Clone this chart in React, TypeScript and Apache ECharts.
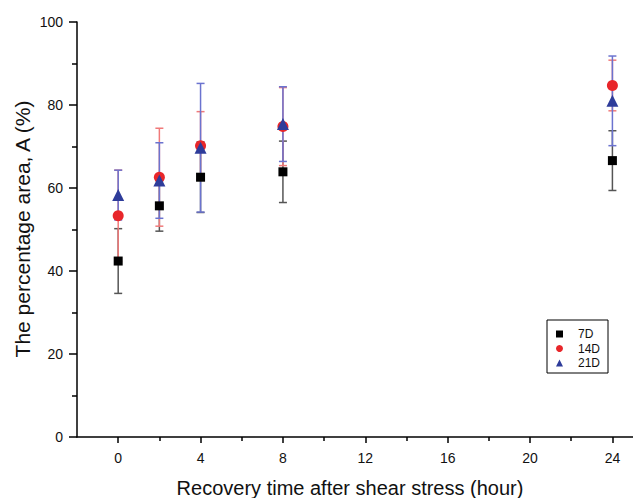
import React, { useEffect, useRef } from "react";
import * as echarts from "echarts";

const times = [0, 2, 4, 8, 24];
const names = ["7D", "14D", "21D"];
const mean7 = [42.4, 55.7, 62.6, 63.9, 66.6];
const err7 = [7.8, 6.1, 8.5, 7.4, 7.2];
const mean14 = [53.3, 62.6, 70.2, 74.8, 84.7];
const err14 = [11.0, 11.8, 8.2, 9.4, 6.1];
const mean21 = [58.3, 61.8, 69.7, 75.4, 81.0];
const err21 = [6.0, 9.1, 15.5, 9.0, 10.8];
const xMajorTicks = [0, 4, 8, 12, 16, 20, 24];
const xMinorTicks = [2, 6, 10, 14, 18, 22];
const yMajorTicks = [0, 20, 40, 60, 80, 100];
const yMinorTicks = [10, 30, 50, 70, 90];

const FONT = "Liberation Sans, Arial, sans-serif";

function errSeries(name: string, means: number[], errs: number[], color: string) {
  return {
    type: "custom",
    name: name + " err",
    encode: { x: 0, y: 1 },
    data: times.map((t, i) => [t, means[i], errs[i]]),
    renderItem: (params: any, api: any) => {
      const x = api.value(0);
      const y = api.value(1);
      const e = api.value(2);
      const top = api.coord([x, y + e]);
      const bot = api.coord([x, y - e]);
      const w = 4;
      const style = { stroke: color, lineWidth: 1.5 };
      return {
        type: "group",
        children: [
          { type: "line", shape: { x1: top[0], y1: top[1], x2: bot[0], y2: bot[1] }, style },
          { type: "line", shape: { x1: top[0] - w, y1: top[1], x2: top[0] + w, y2: top[1] }, style },
          { type: "line", shape: { x1: bot[0] - w, y1: bot[1], x2: bot[0] + w, y2: bot[1] }, style },
        ],
      };
    },
  };
}

function markSeries(name: string, means: number[], symbol: string, size: number, color: string) {
  return {
    type: "scatter",
    name,
    symbol,
    symbolSize: size,
    itemStyle: { color, opacity: 1 },
    data: times.map((t, i) => [t, means[i]]),
  };
}

export default function App() {
  const ref = useRef<HTMLDivElement>(null);
  useEffect(() => {
    if (!ref.current) return;
    const chart = echarts.init(ref.current, null, { renderer: "svg" });
    const axisLineStyle = { color: "#000", width: 1.5 };
    chart.setOption({
      animation: false,
      backgroundColor: "#ffffff",
      grid: { left: 77, right: 0, top: 22, bottom: 61 },
      xAxis: [
        {
          type: "value",
          min: -2,
          max: 25,
          interval: 1,
          position: "bottom",
          axisLine: { show: true, onZero: false, lineStyle: axisLineStyle },
          axisTick: { show: true, customValues: xMajorTicks, length: 6, lineStyle: axisLineStyle },
          axisLabel: { customValues: xMajorTicks, margin: 14, fontSize: 14, color: "#111", fontFamily: FONT },
          splitLine: { show: false },
        },
        {
          type: "value",
          min: -2,
          max: 25,
          interval: 1,
          position: "bottom",
          offset: 0,
          axisLine: { show: false, onZero: false },
          axisTick: { show: true, customValues: xMinorTicks, length: 4, lineStyle: axisLineStyle },
          axisLabel: { show: false },
          splitLine: { show: false },
        },
      ],
      yAxis: [
        {
          type: "value",
          min: 0,
          max: 100,
          interval: 20,
          position: "left",
          axisLine: { show: true, onZero: false, lineStyle: axisLineStyle },
          axisTick: { show: true, customValues: yMajorTicks, length: 8, lineStyle: axisLineStyle },
          axisLabel: { customValues: yMajorTicks, margin: 14, fontSize: 14, color: "#111", fontFamily: FONT },
          splitLine: { show: false },
        },
        {
          type: "value",
          min: 0,
          max: 100,
          interval: 10,
          position: "left",
          offset: 0,
          axisLine: { show: false, onZero: false },
          axisTick: { show: true, customValues: yMinorTicks, length: 5, lineStyle: axisLineStyle },
          axisLabel: { show: false },
          splitLine: { show: false },
        },
      ],
      legend: {
        data: names,
        orient: "vertical",
        left: 547,
        top: 320,
        itemWidth: 7,
        itemHeight: 7,
        itemGap: 2.5,
        padding: [8, 8, 4, 9],
        borderColor: "#000",
        borderWidth: 1,
        textStyle: { fontSize: 12, color: "#111", fontFamily: FONT, padding: [0, 0, 0, 10] },
      },
      graphic: [
        {
          type: "text",
          x: 350,
          y: 488,
          style: {
            text: "Recovery time after shear stress (hour)",
            fontSize: 20,
            fontFamily: FONT,
            fill: "#111",
            align: "center",
            verticalAlign: "middle",
          },
        },
        {
          type: "text",
          x: 22,
          y: 229,
          rotation: Math.PI / 2,
          style: {
            text: "The percentage area, A (%)",
            fontSize: 21,
            fontFamily: FONT,
            fill: "#111",
            align: "center",
            verticalAlign: "middle",
          },
        },
      ],
      series: [
        errSeries(names[0], mean7, err7, "#555555"),
        markSeries(names[0], mean7, "rect", 9, "#000000"),
        errSeries(names[1], mean14, err14, "#f07a7a"),
        markSeries(names[1], mean14, "circle", 11, "#e8262a"),
        errSeries(names[2], mean21, err21, "#6b73cf"),
        markSeries(names[2], mean21, "triangle", 12, "#2e3c9a"),
      ],
    });
    return () => chart.dispose();
  }, []);
  return (
    <div
      ref={ref}
      style={{ position: "absolute", left: 0, top: 0, width: 633, height: 498 }}
    />
  );
}
